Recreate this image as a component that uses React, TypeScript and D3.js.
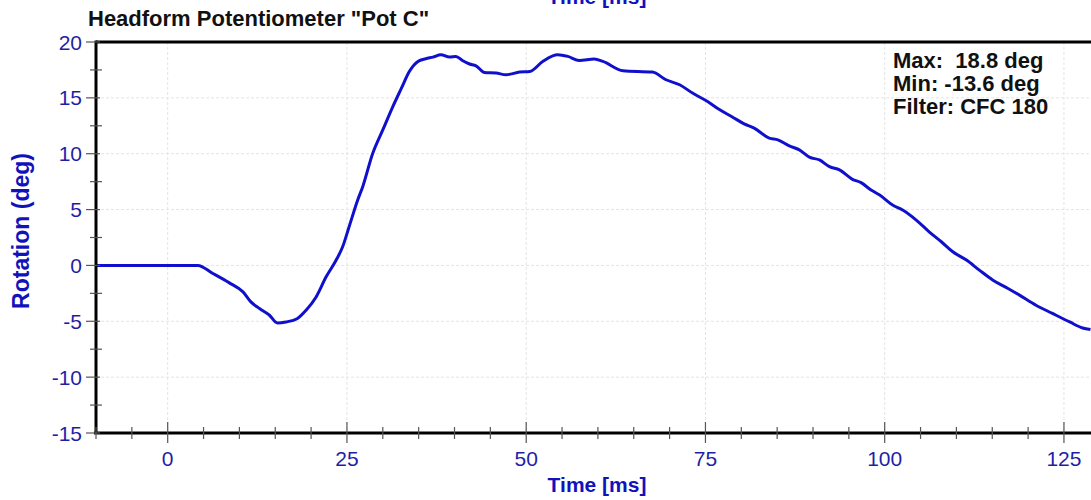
/**
 * Headform potentiometer rotation trace (D3)
 */

import React, { useEffect, useRef } from 'react';
import * as d3 from 'd3';

// Trace
const timeMs = [
  -10, 4.2, 6.3, 8.6, 10.5, 11.6, 12.8, 14.2, 15.3, 16.5, 18.1, 19.3, 20.7, 22.1, 23.5, 24.4,
  25.3, 26.5, 27.2, 28.6, 30.0, 31.4, 32.6, 33.7, 34.9, 36.0, 37.0, 38.1, 39.3, 40.2, 41.1,
  42.1, 43.0, 44.2, 45.8, 47.2, 49.1, 50.5, 52.3, 54.4, 55.8, 57.4, 59.5, 60.7, 63.5, 67.6,
  69.5, 71.4, 73.2, 75.3, 77.0, 78.8, 80.4, 81.8, 83.9, 85.1, 86.7, 88.1, 89.5, 90.9, 92.3,
  93.7, 95.5, 96.7, 98.1, 99.3, 101.1, 102.5, 104.4, 106.2, 107.9, 109.5, 111.4, 113.2,
  115.1, 117.2, 118.8, 121.1, 123.4, 125.8, 127.6, 128.7,
];
const rotationDeg = [
  0, 0, -0.72, -1.56, -2.37, -3.26, -3.86, -4.46, -5.15, -5.06, -4.75, -4.01, -2.82, -1.02,
  0.48, 1.67, 3.46, 5.86, 7.05, 10.04, 12.13, 14.22, 15.87, 17.36, 18.26, 18.5, 18.65, 18.86,
  18.65, 18.71, 18.35, 18.03, 17.87, 17.27, 17.22, 17.07, 17.31, 17.36, 18.26, 18.86, 18.71,
  18.35, 18.48, 18.26, 17.43, 17.31, 16.62, 16.17, 15.43, 14.67, 13.93, 13.27, 12.67, 12.29,
  11.39, 11.24, 10.7, 10.34, 9.69, 9.44, 8.84, 8.55, 7.71, 7.41, 6.75, 6.3, 5.41, 4.96, 4.06,
  3.01, 2.12, 1.22, 0.48, -0.42, -1.32, -2.06, -2.66, -3.56, -4.3, -5.06, -5.6, -5.74,
];

const xMajorTicks = [0, 25, 50, 75, 100, 125];
const yMajorTicks = [-15, -10, -5, 0, 5, 10, 15, 20];
const statsLines = ['Max:  18.8 deg', 'Min: -13.6 deg', 'Filter: CFC 180'];

const TITLE = 'Headform Potentiometer "Pot C"';
const X_LABEL = 'Time [ms]';
const Y_LABEL = 'Rotation (deg)';

const W = 1091;
const H = 500;
const FONT = "'Liberation Sans', Arial, Helvetica, sans-serif";
const TICK_BLUE = '#1f1fa6';
const LABEL_BLUE = '#1212bb';
const LINE_BLUE = '#1010cc';

const PotChart: React.FC = () => {
  const svgRef = useRef<SVGSVGElement>(null);

  useEffect(() => {
    if (!svgRef.current) return;
    const svg = d3.select(svgRef.current);
    svg.selectAll('*').remove();

    const left = 96;
    const top = 42;
    const bottom = 433;

    const x = d3.scaleLinear().domain([-10, 130]).range([left, left + 140 * 7.17]);
    const y = d3.scaleLinear().domain([-15, 20]).range([bottom, top]);
    const right = x(130);

    svg.attr('width', W).attr('height', H);

    // Grid
    const grid = svg.append('g').attr('stroke', '#e4e4e4').attr('stroke-width', 1).attr('stroke-dasharray', '3,2');
    grid.selectAll('.gx')
      .data(xMajorTicks)
      .enter()
      .append('line')
      .attr('x1', (d) => x(d))
      .attr('x2', (d) => x(d))
      .attr('y1', top)
      .attr('y2', bottom);
    grid.selectAll('.gy')
      .data(yMajorTicks.filter((d) => d > -15 && d < 20))
      .enter()
      .append('line')
      .attr('x1', left)
      .attr('x2', right)
      .attr('y1', (d) => y(d))
      .attr('y2', (d) => y(d));

    // Trace
    const pts = timeMs.map((t, i) => [t, rotationDeg[i]] as [number, number]);
    const line = d3.line<[number, number]>()
      .x((d) => x(d[0]))
      .y((d) => y(d[1]))
      .curve(d3.curveMonotoneX);
    svg.append('path')
      .datum(pts)
      .attr('d', line)
      .attr('fill', 'none')
      .attr('stroke', LINE_BLUE)
      .attr('stroke-width', 3)
      .attr('stroke-linejoin', 'round');

    // Frame
    const frame = svg.append('g').attr('stroke', '#000').attr('fill', 'none');
    frame.append('line').attr('x1', left).attr('x2', right).attr('y1', top).attr('y2', top).attr('stroke-width', 3);
    frame.append('line').attr('x1', left).attr('x2', left).attr('y1', top - 1.5).attr('y2', bottom).attr('stroke-width', 3);
    frame.append('line').attr('x1', left - 2).attr('x2', right).attr('y1', bottom).attr('y2', bottom).attr('stroke-width', 3);

    // X ticks
    const xMinor = d3.range(-10, 131, 5).filter((d) => !xMajorTicks.includes(d));
    const ticks = svg.append('g').attr('stroke', '#555').attr('stroke-width', 1.2);
    ticks.selectAll('.xmin')
      .data(xMinor)
      .enter()
      .append('line')
      .attr('x1', (d) => x(d))
      .attr('x2', (d) => x(d))
      .attr('y1', bottom - 6)
      .attr('y2', bottom + 6);
    ticks.selectAll('.xmaj')
      .data(xMajorTicks)
      .enter()
      .append('line')
      .attr('x1', (d) => x(d))
      .attr('x2', (d) => x(d))
      .attr('y1', bottom - 11)
      .attr('y2', bottom + 10);

    // Y ticks
    const yMinor = d3.range(-12.5, 20, 5);
    ticks.selectAll('.ymin')
      .data(yMinor)
      .enter()
      .append('line')
      .attr('x1', left - 6)
      .attr('x2', left + 6)
      .attr('y1', (d) => y(d))
      .attr('y2', (d) => y(d));
    ticks.selectAll('.ymaj')
      .data(yMajorTicks)
      .enter()
      .append('line')
      .attr('x1', left - 10)
      .attr('x2', left + 4)
      .attr('y1', (d) => y(d))
      .attr('y2', (d) => y(d));

    // Tick labels
    svg.append('g')
      .selectAll('text')
      .data(xMajorTicks)
      .enter()
      .append('text')
      .attr('x', (d) => x(d))
      .attr('y', 466)
      .attr('text-anchor', 'middle')
      .style('font-family', FONT)
      .style('font-size', '21px')
      .style('fill', TICK_BLUE)
      .text((d) => d);

    svg.append('g')
      .selectAll('text')
      .data(yMajorTicks)
      .enter()
      .append('text')
      .attr('x', 82)
      .attr('y', (d) => y(d) + 7.5)
      .attr('text-anchor', 'end')
      .style('font-family', FONT)
      .style('font-size', '21px')
      .style('fill', TICK_BLUE)
      .text((d) => d);

    // Axis titles
    svg.append('text')
      .attr('x', 597)
      .attr('y', 492)
      .attr('text-anchor', 'middle')
      .style('font-family', FONT)
      .style('font-size', '21px')
      .style('font-weight', 'bold')
      .style('fill', LABEL_BLUE)
      .text(X_LABEL);

    svg.append('text')
      .attr('transform', 'translate(29,231) rotate(-90)')
      .attr('text-anchor', 'middle')
      .style('font-family', FONT)
      .style('font-size', '23px')
      .style('font-weight', 'bold')
      .style('fill', LABEL_BLUE)
      .text(Y_LABEL);

    // Label of the chart above, cut by the image edge in the reference
    svg.append('text')
      .attr('x', 597)
      .attr('y', 4)
      .attr('text-anchor', 'middle')
      .style('font-family', FONT)
      .style('font-size', '21px')
      .style('font-weight', 'bold')
      .style('fill', LABEL_BLUE)
      .text(X_LABEL);

    // Title
    svg.append('text')
      .attr('x', 88)
      .attr('y', 26)
      .style('font-family', FONT)
      .style('font-size', '22px')
      .style('font-weight', 'bold')
      .style('fill', '#111')
      .text(TITLE);

    // Stats box
    svg.append('g')
      .selectAll('text')
      .data(statsLines)
      .enter()
      .append('text')
      .attr('x', 893)
      .attr('y', (d, i) => 68 + i * 23)
      .style('white-space', 'pre')
      .style('font-family', FONT)
      .style('font-size', '22px')
      .style('font-weight', 'bold')
      .style('fill', '#111')
      .text((d) => d);

    return () => {
      svg.selectAll('*').remove();
    };
  }, []);

  return <svg ref={svgRef} style={{ position: 'absolute', left: 0, top: 0, background: '#fff' }} />;
};

export default function App() {
  return <PotChart />;
}
